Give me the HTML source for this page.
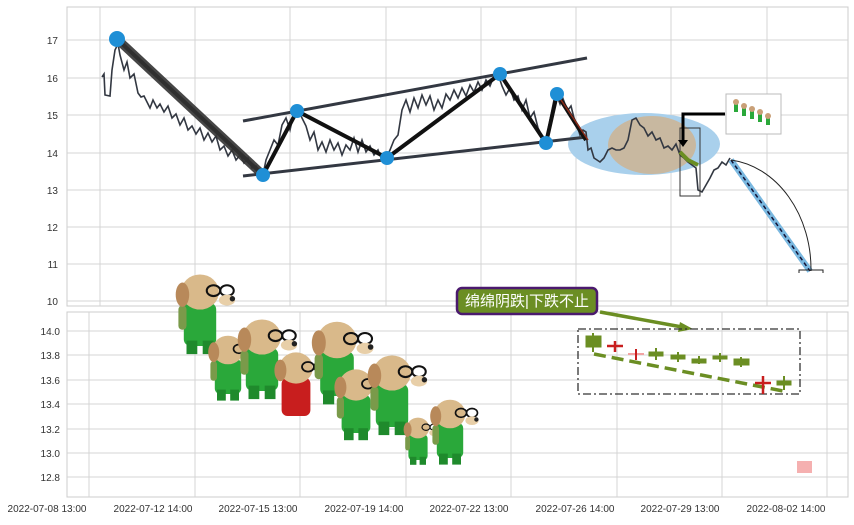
<!DOCTYPE html>
<html><head><meta charset="utf-8"><style>
body{margin:0;background:#fff;width:854px;height:520px;overflow:hidden;font-family:"Liberation Sans","Noto Sans CJK SC",sans-serif}
</style></head><body>
<svg width="854" height="520" xmlns="http://www.w3.org/2000/svg" font-family="Liberation Sans, Noto Sans CJK SC, sans-serif">
<defs>
<g id="dog">
<rect x="-12" y="8" width="24" height="32" rx="5" fill="#2aa83a"/>
<rect x="-10" y="36" width="8" height="10" fill="#1f8a2c"/><rect x="2" y="36" width="8" height="10" fill="#1f8a2c"/>
<rect x="-16" y="10" width="6" height="18" rx="3" fill="#7a9a4a"/>
<ellipse cx="0" cy="0" rx="14" ry="13" fill="#d9b98a"/>
<ellipse cx="-13" cy="2" rx="5" ry="9" fill="#b8895a"/>
<ellipse cx="10" cy="-1" rx="5" ry="4" fill="none" stroke="#111" stroke-width="1.5"/>
<ellipse cx="20" cy="-1" rx="5" ry="4" fill="none" stroke="#111" stroke-width="1.5"/>
<ellipse cx="20" cy="6" rx="6" ry="4" fill="#e8cfa8"/><circle cx="24" cy="5" r="2" fill="#222"/>
</g>
</defs>
<rect x="67" y="7" width="781" height="299" fill="#fff" stroke="#ccc"/>
<rect x="67" y="312" width="781" height="185" fill="#fff" stroke="#ccc"/>
<g stroke="#d4d4d4" stroke-width="1">
<line x1="100" y1="7" x2="100" y2="306"/><line x1="195" y1="7" x2="195" y2="306"/><line x1="290" y1="7" x2="290" y2="306"/><line x1="386" y1="7" x2="386" y2="306"/><line x1="481" y1="7" x2="481" y2="306"/><line x1="576" y1="7" x2="576" y2="306"/><line x1="671" y1="7" x2="671" y2="306"/><line x1="767" y1="7" x2="767" y2="306"/>
<line x1="67" y1="40" x2="848" y2="40"/><line x1="67" y1="78" x2="848" y2="78"/><line x1="67" y1="115" x2="848" y2="115"/><line x1="67" y1="153" x2="848" y2="153"/><line x1="67" y1="190" x2="848" y2="190"/><line x1="67" y1="227" x2="848" y2="227"/><line x1="67" y1="264" x2="848" y2="264"/><line x1="67" y1="301" x2="848" y2="301"/>
<line x1="89" y1="312" x2="89" y2="497"/><line x1="195" y1="312" x2="195" y2="497"/><line x1="300" y1="312" x2="300" y2="497"/><line x1="406" y1="312" x2="406" y2="497"/><line x1="511" y1="312" x2="511" y2="497"/><line x1="617" y1="312" x2="617" y2="497"/><line x1="722" y1="312" x2="722" y2="497"/><line x1="827" y1="312" x2="827" y2="497"/>
<line x1="67" y1="331" x2="848" y2="331"/><line x1="67" y1="355" x2="848" y2="355"/><line x1="67" y1="380" x2="848" y2="380"/><line x1="67" y1="404" x2="848" y2="404"/><line x1="67" y1="429" x2="848" y2="429"/><line x1="67" y1="453" x2="848" y2="453"/><line x1="67" y1="477" x2="848" y2="477"/>
</g>
<g font-size="10" fill="#333" text-anchor="end">
<text x="58" y="44">17</text><text x="58" y="82">16</text><text x="58" y="119">15</text><text x="58" y="157">14</text><text x="58" y="194">13</text><text x="58" y="231">12</text><text x="58" y="268">11</text><text x="58" y="305">10</text>
<text x="60" y="335">14.0</text><text x="60" y="359">13.8</text><text x="60" y="384">13.6</text><text x="60" y="408">13.4</text><text x="60" y="433">13.2</text><text x="60" y="457">13.0</text><text x="60" y="481">12.8</text>
</g>
<g font-size="10" fill="#333" text-anchor="middle">
<text x="47" y="512">2022-07-08 13:00</text><text x="153" y="512">2022-07-12 14:00</text><text x="258" y="512">2022-07-15 13:00</text><text x="364" y="512">2022-07-19 14:00</text><text x="469" y="512">2022-07-22 13:00</text><text x="575" y="512">2022-07-26 14:00</text><text x="680" y="512">2022-07-29 13:00</text><text x="786" y="512">2022-08-02 14:00</text>
</g>
<ellipse cx="644" cy="144" rx="76" ry="31" fill="#a9d0ec"/>
<ellipse cx="652" cy="145" rx="44" ry="29" fill="#c8b8a0"/>
<polyline fill="none" stroke="#333842" stroke-width="1.6" points="102,77 104,74 105,95 110,96 112,70 115,50 118,44 120,55 124,70 127,62 130,78 134,74 138,93 141,97 144,96 147,102 150,108 153,100 157,108 160,104 164,112 168,106 172,118 176,114 180,125 184,118 188,130 192,126 196,134 200,128 204,140 208,133 212,142 216,136 220,150 224,146 228,156 232,150 236,160 240,155 244,163 248,158 252,168 256,166 260,172 263,175 266,160 270,150 274,140 278,145 282,125 286,118 290,130 294,112 298,108 302,118 306,126 310,140 314,132 318,150 322,142 326,152 330,140 334,150 338,143 342,155 346,145 350,150 354,138 358,152 362,140 366,152 370,146 374,155 378,150 382,160 386,158 390,150 394,140 398,135 402,110 406,100 410,112 414,98 418,108 422,95 426,105 430,96 434,110 438,100 442,108 446,94 450,100 454,90 458,98 462,88 466,96 470,85 474,92 478,82 482,90 486,80 490,86 494,76 498,74 502,86 506,95 510,88 514,100 518,96 522,110 526,100 530,118 534,112 538,128 542,136 546,140 550,120 554,100 557,96 560,104 562,96 565,104 568,110 571,106 574,118 577,125 580,135 583,130 586,132 588,150 591,148 594,158 597,160 600,162 604,158 608,150 612,148 616,150 620,150 624,148 628,140 632,120 636,118 640,125 644,128 648,136 652,132 656,140 660,138 664,148 668,146 672,150 676,144 680,155 684,158 688,162 692,165 696,168 698,190 702,192 706,185 710,178 714,170 718,168 722,162 726,165 730,158"/>
<g stroke="#333842" stroke-width="3" fill="none">
<line x1="243" y1="176" x2="587" y2="137"/><line x1="243" y1="121" x2="587" y2="58"/>
</g>
<polyline fill="none" stroke="#111" stroke-width="4" points="117,39 263,175 297,111 387,158 500,74 546,143 557,94 586,140"/>
<line x1="117" y1="39" x2="263" y2="175" stroke="#333" stroke-width="9" opacity="0.9"/>
<line x1="557" y1="94" x2="588" y2="140" stroke="#8b2c1a" stroke-width="1.5"/>
<g fill="#1f8fd6">
<circle cx="117" cy="39" r="8"/><circle cx="263" cy="175" r="7"/><circle cx="297" cy="111" r="7"/><circle cx="387" cy="158" r="7"/><circle cx="500" cy="74" r="7"/><circle cx="546" cy="143" r="7"/><circle cx="557" cy="94" r="7"/>
</g>
<rect x="680" y="128" width="20" height="68" fill="none" stroke="#333"/>
<polyline points="725,114 683,114 683,140" fill="none" stroke="#000" stroke-width="3"/>
<polygon points="678,140 688,140 683,147" fill="#000"/>
<polyline points="680,152 688,160 698,165" stroke="#6b8e23" stroke-width="4" fill="none"/>
<rect x="726" y="94" width="55" height="40" fill="#fff" stroke="#bbb"/>
<g fill="#2aa83a"><rect x="734" y="104" width="4" height="8"/><rect x="742" y="108" width="4" height="8"/><rect x="750" y="111" width="4" height="8"/><rect x="758" y="114" width="4" height="8"/><rect x="766" y="117" width="4" height="8"/></g>
<g fill="#c9a078"><circle cx="736" cy="102" r="3"/><circle cx="744" cy="106" r="3"/><circle cx="752" cy="109" r="3"/><circle cx="760" cy="112" r="3"/><circle cx="768" cy="116" r="3"/></g>
<line x1="731" y1="160" x2="810" y2="271" stroke="#7ab8e0" stroke-width="6"/>
<line x1="731" y1="160" x2="810" y2="271" stroke="#113" stroke-width="1.5" stroke-dasharray="4,3"/>
<path d="M731,160 A90,110 0 0 1 811,271" fill="none" stroke="#222" stroke-width="1"/>
<polyline points="799,273 799,270 823,270 823,273" fill="none" stroke="#222"/>
<use href="#dog" transform="translate(200,292) scale(1.35)"/>
<use href="#dog" transform="translate(228,350) scale(1.1)"/>
<use href="#dog" transform="translate(262,337) scale(1.35)"/>
<g transform="translate(296,368) scale(1.2)"><rect x="-12" y="8" width="24" height="32" rx="5" fill="#c81e1e"/><ellipse cx="0" cy="0" rx="14" ry="13" fill="#d9b98a"/><ellipse cx="-13" cy="2" rx="5" ry="9" fill="#b8895a"/><ellipse cx="10" cy="-1" rx="5" ry="4" fill="none" stroke="#111" stroke-width="1.5"/><ellipse cx="20" cy="-1" rx="5" ry="4" fill="none" stroke="#111" stroke-width="1.5"/></g>
<use href="#dog" transform="translate(337,340) scale(1.4)"/>
<use href="#dog" transform="translate(356,385) scale(1.2)"/>
<use href="#dog" transform="translate(392,373) scale(1.35)"/>
<use href="#dog" transform="translate(418,428) scale(0.8)"/>
<use href="#dog" transform="translate(450,414) scale(1.1)"/>
<rect x="457" y="288" width="140" height="26" rx="5" fill="#6b8e23" stroke="#4b1a6e" stroke-width="2.5"/>
<text x="527" y="306" font-size="15" fill="#fff" text-anchor="middle">绵绵阴跌|下跌不止</text>
<line x1="600" y1="312" x2="682" y2="327" stroke="#6b8e23" stroke-width="3.5"/>
<polygon points="693,329 680,322 678,332" fill="#6b8e23"/>
<rect x="578" y="329" width="222" height="65" fill="none" stroke="#333" stroke-dasharray="8,3,2,3" stroke-width="1.3"/>
<line x1="594" y1="354" x2="783" y2="391" stroke="#6b8e23" stroke-width="3.5" stroke-dasharray="12,6"/>
<g fill="#6b8e23" stroke="#6b8e23">
<rect x="586" y="336" width="15" height="11"/><line x1="593" y1="333" x2="593" y2="352" stroke-width="2"/>
<rect x="649" y="352" width="14" height="4"/><line x1="656" y1="348" x2="656" y2="360" stroke-width="2"/>
<rect x="671" y="355" width="14" height="4"/><line x1="678" y1="352" x2="678" y2="362" stroke-width="2"/>
<rect x="692" y="359" width="14" height="4"/><line x1="699" y1="356" x2="699" y2="364" stroke-width="2"/>
<rect x="713" y="356" width="14" height="3"/><line x1="720" y1="353" x2="720" y2="362" stroke-width="2"/>
<rect x="734" y="359" width="15" height="6"/><line x1="741" y1="357" x2="741" y2="367" stroke-width="2"/>
<rect x="777" y="381" width="14" height="4"/><line x1="784" y1="376" x2="784" y2="390" stroke-width="2"/>
</g>
<g stroke="#c81e1e" stroke-width="2.5">
<line x1="607" y1="346" x2="623" y2="346"/><line x1="615" y1="341" x2="615" y2="352"/>
<line x1="755" y1="383" x2="771" y2="383"/><line x1="763" y1="376" x2="763" y2="394"/>
</g>
<g stroke="#f2a3a3" stroke-width="2"><line x1="628" y1="354" x2="644" y2="354"/><line x1="636" y1="349" x2="636" y2="360" stroke="#c81e1e"/></g>
<rect x="797" y="461" width="15" height="12" fill="#f5b0b0"/>
</svg>
</body></html>
